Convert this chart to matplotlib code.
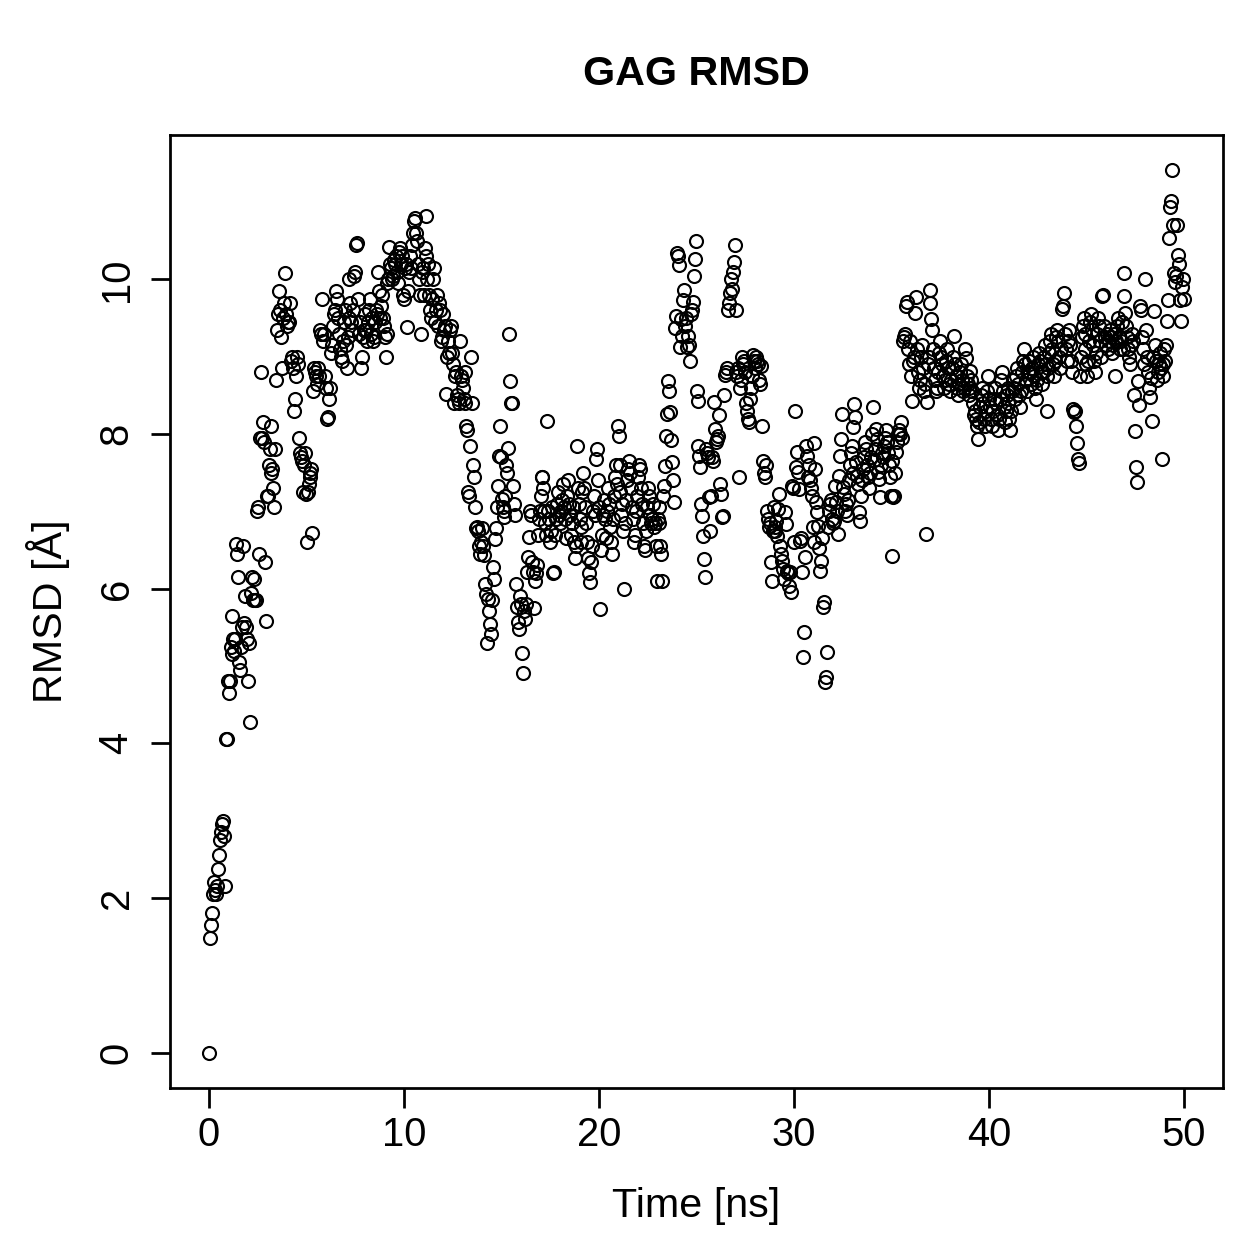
import numpy as np
import matplotlib
matplotlib.use("Agg")
import matplotlib.pyplot as plt

plt.rcParams['font.family'] = ['Liberation Sans', 'DejaVu Sans']

title = "GAG RMSD"
xlabel = "Time [ns]"
ylabel = "RMSD [Å]"
xticks = [0, 10, 20, 30, 40, 50]
yticks = [0, 2, 4, 6, 8, 10]
dt = 0.05  # ns between frames

rmsd = [0.00,
 1.48,1.65,1.80,2.05,2.20,2.10,2.05,2.15,2.38,2.55,2.75,2.85,2.95,3.00,2.80,2.15,4.05,4.05,4.80,4.65,
 4.80,5.25,5.15,5.65,5.35,5.20,5.35,6.58,6.45,6.15,5.05,4.95,5.25,5.50,6.55,5.55,5.90,5.50,5.35,4.80,
 5.30,4.28,5.95,6.15,5.85,6.12,5.85,5.85,7.00,7.05,6.45,7.95,8.80,7.95,8.15,7.90,6.35,5.58,7.20,7.20,
 7.60,7.80,8.10,7.50,7.55,7.30,7.05,7.80,8.70,9.35,9.55,9.85,9.60,9.25,8.85,9.50,9.70,10.08,9.55,9.40,
 9.45,9.45,9.70,8.95,9.00,8.85,8.30,8.45,8.75,9.00,8.90,7.95,7.75,7.70,7.65,7.25,7.60,7.75,7.22,6.60,
 7.25,7.35,7.50,7.45,7.55,6.72,8.55,8.85,8.80,8.75,8.65,8.85,8.75,9.35,9.30,9.75,9.20,9.30,8.75,8.60,
 8.20,8.22,8.45,8.60,9.05,9.15,9.40,9.55,9.60,9.85,9.75,9.50,9.30,9.10,9.00,8.95,9.20,9.45,9.60,9.15,
 8.85,9.25,9.50,10.00,9.70,9.45,9.35,9.60,10.05,10.10,10.45,10.47,9.75,9.30,9.45,8.85,9.00,9.25,9.35,9.55,
 9.35,9.20,9.45,9.60,9.75,9.30,9.50,9.20,9.25,9.45,9.60,9.55,10.10,9.85,9.50,9.65,9.80,9.50,9.40,9.25,
 9.00,9.30,9.95,10.00,10.42,10.20,10.15,10.00,10.05,10.25,10.20,10.30,10.10,9.95,10.35,10.40,10.20,10.30,9.80,9.75,
 10.15,10.20,9.38,9.85,10.10,10.30,10.15,10.45,10.60,10.75,10.80,10.60,10.50,10.20,10.00,9.80,9.30,10.10,10.15,9.80,
 10.40,10.30,10.82,10.00,10.20,9.80,9.60,9.50,9.75,10.00,10.15,9.45,9.60,9.80,9.40,9.70,9.60,9.20,9.25,9.55,
 9.35,9.40,8.52,9.00,9.20,9.05,9.35,9.40,9.05,8.90,8.40,8.75,8.80,8.50,8.45,8.40,9.20,8.75,8.70,8.60,
 8.45,8.80,8.40,8.10,8.05,7.25,7.20,7.85,9.00,8.40,7.60,7.45,7.05,6.78,6.80,6.75,6.55,6.45,6.60,6.78,
 6.55,6.43,6.06,5.93,5.30,5.87,5.71,5.54,5.41,5.85,6.28,6.13,6.64,6.78,7.06,7.33,7.72,8.10,7.70,7.16,
 7.06,6.93,7.00,7.20,7.60,7.50,7.82,9.29,8.68,8.40,8.40,7.33,7.10,6.95,6.06,5.76,5.57,5.48,5.91,5.80,
 5.17,4.91,5.71,5.61,5.80,6.22,6.41,6.67,7.00,6.95,6.35,6.22,5.75,6.10,6.20,6.30,6.70,6.90,7.00,7.20,
 7.45,7.45,7.30,7.00,6.85,6.70,8.17,7.00,6.90,6.60,6.75,7.05,6.20,6.22,6.70,6.90,7.10,7.25,6.95,6.85,
 7.00,7.15,7.35,7.05,6.90,6.65,7.20,7.40,7.10,6.95,6.70,6.85,7.05,6.60,6.40,6.55,7.85,7.30,7.10,6.90,
 6.60,6.80,7.25,7.50,7.30,7.05,6.85,6.60,6.40,6.20,6.09,6.35,6.55,7.00,7.20,6.95,7.68,7.80,7.40,7.05,
 5.74,6.50,6.70,6.95,7.15,6.90,6.65,7.00,7.30,7.10,6.80,6.60,6.45,6.90,7.20,7.45,7.60,7.35,8.10,7.98,
 7.60,7.25,6.95,7.10,6.75,6.00,6.85,7.15,7.40,7.55,7.65,7.50,7.30,7.05,6.90,6.60,6.70,7.00,7.20,7.45,
 7.60,7.55,7.30,7.10,6.85,6.55,6.50,6.75,7.05,7.30,7.20,6.95,6.85,6.90,7.10,6.80,6.85,6.55,6.10,6.90,
 7.05,6.85,6.55,6.45,6.10,7.20,7.33,7.59,7.97,8.26,8.69,8.55,8.29,7.92,7.64,7.40,7.12,9.37,9.53,10.34,
 10.30,10.18,9.13,9.49,9.27,9.73,9.86,9.40,9.50,9.13,9.27,9.15,8.94,9.55,9.60,9.71,10.05,10.27,10.49,8.56,
 8.43,7.85,7.72,7.58,7.10,6.94,6.68,6.39,6.15,7.80,7.75,7.70,7.19,6.75,7.20,7.70,7.65,8.42,8.07,7.90,
 7.94,7.98,8.24,7.36,7.23,6.93,6.94,8.50,8.76,8.80,8.85,9.60,9.69,9.82,10.01,9.88,10.10,10.23,10.44,9.60,
 8.80,8.75,8.85,7.45,8.60,8.70,9.00,8.90,8.95,8.80,8.40,8.30,8.20,8.15,8.45,8.60,8.75,9.02,8.95,8.85,
 9.00,8.95,8.90,8.70,8.65,8.88,8.10,7.65,7.50,7.45,7.60,7.00,6.90,6.80,6.85,6.35,6.10,6.75,7.05,6.80,
 6.75,6.88,6.68,7.03,7.23,6.55,6.45,6.36,6.26,6.13,6.99,6.84,6.23,6.20,6.04,6.22,5.96,7.33,7.30,6.60,
 8.30,7.58,7.77,7.51,7.29,6.62,6.65,6.22,5.12,5.44,6.41,7.84,7.71,7.45,7.60,7.40,7.30,7.20,6.80,6.60,
 7.88,7.55,7.12,6.99,6.81,6.52,6.23,6.36,6.65,5.76,5.83,4.79,4.86,5.18,6.80,7.00,7.10,7.15,6.90,6.85,
 6.88,7.33,7.12,7.01,6.71,7.46,7.71,7.94,8.26,7.32,7.23,7.00,7.10,6.95,7.15,7.40,7.60,7.75,7.85,7.50,
 8.09,8.39,8.22,7.64,7.46,7.36,6.99,6.88,7.20,7.40,7.55,7.70,7.90,7.80,7.60,7.45,7.30,7.50,7.70,8.00,
 8.35,7.66,7.81,8.07,7.94,7.51,7.42,7.19,7.60,7.75,7.70,7.85,7.95,8.05,7.90,7.75,7.60,7.45,7.20,7.65,
 6.42,7.19,7.20,7.50,7.77,7.90,8.00,8.05,8.00,8.16,7.95,9.20,9.26,9.30,9.65,9.71,9.10,8.90,9.20,8.75,
 8.43,8.95,9.00,9.56,9.77,9.10,8.80,8.60,8.70,9.00,9.15,8.85,8.55,8.65,6.71,8.42,8.90,9.00,9.86,9.69,
 9.49,9.34,9.10,8.85,8.70,8.55,8.60,8.80,9.05,9.20,9.00,8.90,8.75,8.60,8.70,8.95,9.10,8.85,8.65,8.55,
 8.70,8.85,9.00,9.27,8.90,8.75,8.60,8.50,8.65,8.80,8.90,8.70,8.55,8.60,9.10,8.98,8.75,8.65,8.50,8.60,
 8.81,8.70,8.55,8.40,8.25,8.30,8.20,8.10,7.94,8.15,8.35,8.50,8.60,8.40,8.20,8.10,8.30,8.55,8.75,8.45,
 8.35,8.20,8.10,8.30,8.45,8.60,8.40,8.25,8.05,8.20,8.45,8.70,8.80,8.55,8.35,8.15,8.30,8.50,8.60,8.40,
 8.20,8.05,8.30,8.55,8.70,8.60,8.45,8.75,8.85,8.65,8.50,8.35,8.55,8.80,8.95,9.10,8.90,8.70,8.55,8.80,
 8.95,8.80,8.65,8.85,9.00,8.75,8.60,8.45,8.70,8.90,9.05,8.95,8.80,8.65,8.80,9.00,9.15,8.90,8.75,8.30,
 8.85,9.05,9.20,9.30,9.10,8.90,8.75,8.95,9.25,9.35,9.20,9.00,8.85,9.10,9.62,9.66,9.82,9.30,9.10,8.95,
 9.20,9.35,9.15,8.95,8.80,8.33,8.29,8.30,8.11,7.88,7.68,7.62,8.75,9.00,9.25,9.40,9.50,9.30,9.10,8.90,
 8.75,8.95,9.20,9.45,9.55,9.35,9.15,8.95,8.80,9.05,9.30,9.50,9.40,9.20,9.00,9.79,9.80,9.40,9.25,9.15,
 9.30,9.10,9.20,9.35,9.25,9.05,9.15,9.30,8.75,9.20,9.40,9.50,9.25,9.10,9.20,9.45,9.10,10.08,9.79,9.56,
 9.40,9.25,9.10,9.00,8.90,9.15,9.30,9.20,8.50,8.04,7.58,7.38,8.68,8.37,9.66,9.60,9.25,9.10,8.90,10.01,
 9.34,9.00,8.80,8.60,8.48,8.72,8.17,9.00,9.59,9.15,8.94,8.70,8.80,8.90,9.05,8.85,7.68,8.75,8.90,9.10,
 8.94,9.15,9.46,9.73,10.53,10.94,11.02,11.41,10.70,10.08,9.97,10.05,10.70,10.31,10.20,9.73,9.46,9.90,10.00,9.75,
]

time = np.arange(len(rmsd)) * dt

fig = plt.figure(figsize=(7, 7), dpi=180)
ax = fig.add_axes([0.135, 0.1366, 0.8356, 0.7562])
ax.plot(time, rmsd, linestyle='none', marker='o', markersize=5.2,
        markerfacecolor='none', markeredgecolor='black', markeredgewidth=0.85)

xmin, xmax = 0, 50
ymin, ymax = 0, max(rmsd)
ax.set_xlim(xmin - 0.04 * (xmax - xmin), xmax + 0.04 * (xmax - xmin))
ax.set_ylim(ymin - 0.04 * (ymax - ymin), ymax + 0.04 * (ymax - ymin))

ax.set_xticks(xticks)
ax.set_yticks(yticks)
ax.set_xticklabels([str(v) for v in xticks])
ax.set_yticklabels([str(v) for v in yticks], rotation=90, va='center')
ax.tick_params(axis='both', direction='out', length=7.8, width=1.1, labelsize=16, colors='black')
ax.tick_params(axis='x', pad=3.5)
ax.tick_params(axis='y', pad=6)
for s in ax.spines.values():
    s.set_linewidth(1.1)
    s.set_color('black')

ax.set_xlabel(xlabel, fontsize=16.5, labelpad=13)
ax.set_ylabel(ylabel, fontsize=16.5, labelpad=11)
ax.set_title(title, fontsize=16.5, fontweight='bold', pad=20)

fig.savefig("out.png", dpi=180)
